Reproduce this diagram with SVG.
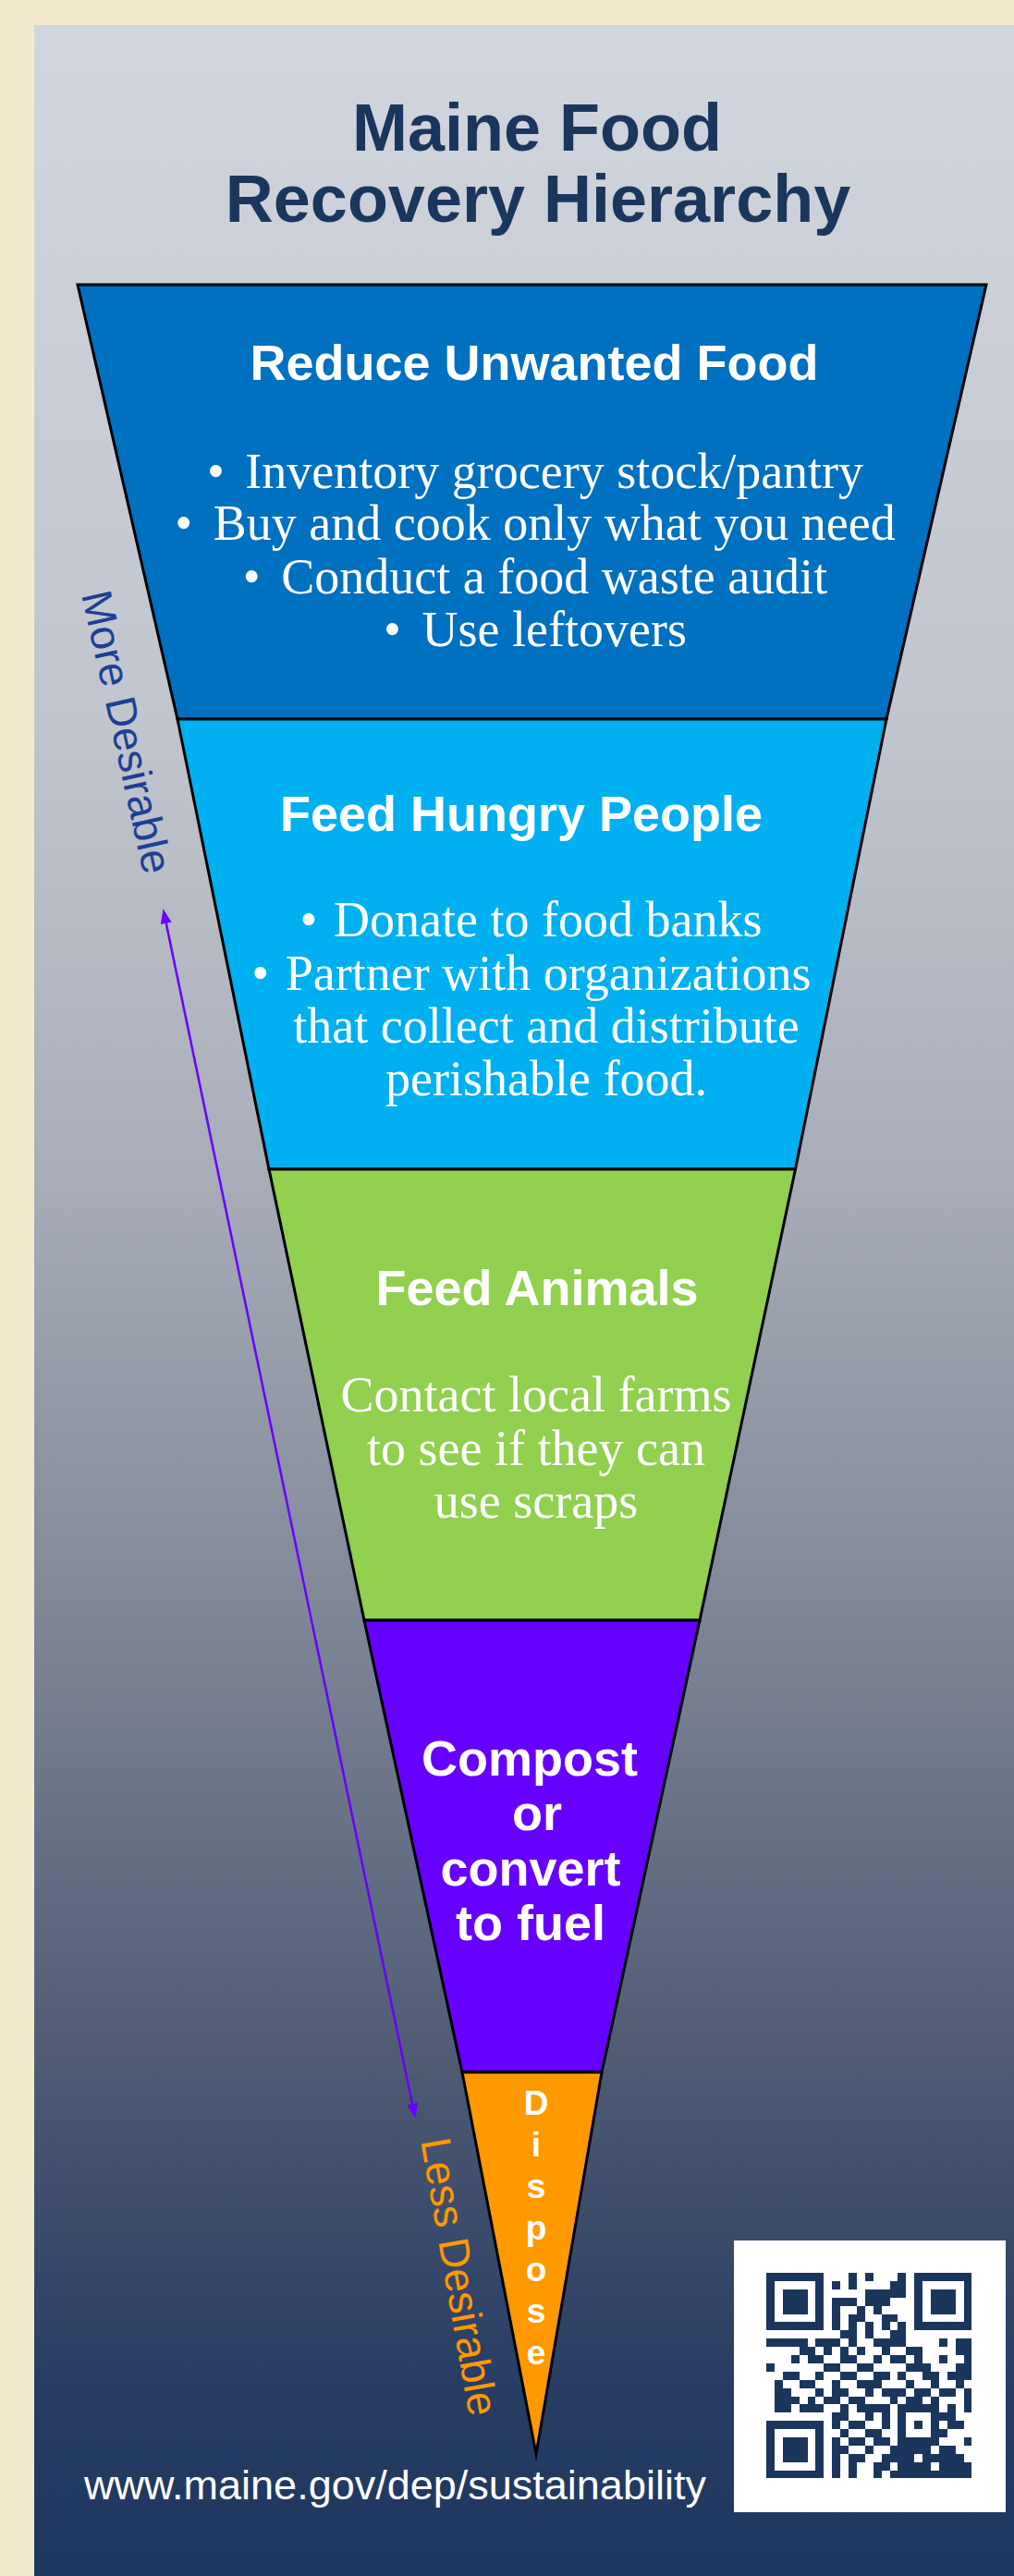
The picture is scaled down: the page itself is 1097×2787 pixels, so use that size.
<svg xmlns="http://www.w3.org/2000/svg" width="1097" height="2787" viewBox="0 0 1097 2787">
<defs>
<linearGradient id="bg" x1="0" y1="0" x2="0" y2="1">
<stop offset="0" stop-color="#D1D6DE"/>
<stop offset="0.27" stop-color="#C1C6CE"/>
<stop offset="0.45" stop-color="#A8ADB8"/>
<stop offset="0.6" stop-color="#858C9B"/>
<stop offset="0.8" stop-color="#4F5A73"/>
<stop offset="0.93" stop-color="#263C63"/>
<stop offset="1" stop-color="#1E375F"/>
</linearGradient>
<marker id="ah" markerUnits="userSpaceOnUse" markerWidth="16" markerHeight="12" refX="8" refY="6" orient="auto-start-reverse" viewBox="0 0 16 12">
<path d="M0,0 L16,6 L0,12 z" fill="#6600FF"/>
</marker>
<style>
.band{stroke:#000;stroke-width:3;stroke-linejoin:miter;stroke-miterlimit:20}
.h{font-family:"Liberation Sans",Arial,sans-serif;font-weight:bold;font-size:54px;fill:#fff;text-anchor:middle}
.b{font-family:"Liberation Serif","Times New Roman",serif;font-size:54px;fill:#fff;text-anchor:middle}
.d{font-family:"Liberation Sans",Arial,sans-serif;font-weight:bold;font-size:37px;fill:#fff;text-anchor:middle}
.t{font-family:"Liberation Sans",Arial,sans-serif;font-weight:bold;font-size:72px;fill:#1B365D;text-anchor:middle}
.s{font-family:"Liberation Sans",Arial,sans-serif;font-size:46px}
.qr rect{fill:#1B365D}
</style>
</defs>
<rect x="0" y="0" width="1097" height="2787" fill="#F3E9CD"/>
<rect x="37" y="27" width="1060" height="2760" fill="url(#bg)"/>

<g id="title">
<text class="t" x="581" y="163">Maine Food</text>
<text class="t" x="582" y="240">Recovery Hierarchy</text>
</g>

<g id="reduce">
<polygon class="band" fill="#0070C0" points="84,308 1067,308 959,778 192,778"/>
<text class="h" x="578" y="411">Reduce Unwanted Food</text>
<text class="b" x="579" y="528">•<tspan dx="9"> Inventory grocery stock/pantry</tspan></text>
<text class="b" x="579" y="584">•<tspan dx="9"> Buy and cook only what you need</tspan></text>
<text class="b" x="579" y="642">•<tspan dx="9"> Conduct a food waste audit</tspan></text>
<text class="b" x="579" y="699">•<tspan dx="9"> Use leftovers</tspan></text>
</g>

<g id="feed-people">
<polygon class="band" fill="#00B0F0" points="192,778 959,778 860.5,1265 291,1265"/>
<text class="h" x="564" y="899">Feed Hungry People</text>
<text class="b" x="574.5" y="1013">•<tspan dx="4"> Donate to food banks</tspan></text>
<text class="b" x="575" y="1071">•<tspan dx="4"> Partner with organizations</tspan></text>
<text class="b" x="591" y="1128">that collect and distribute</text>
<text class="b" x="591" y="1185">perishable food.</text>
</g>

<g id="feed-animals">
<polygon class="band" fill="#92D050" points="291,1265 860.5,1265 757,1753 394,1753"/>
<text class="h" x="581" y="1412">Feed Animals</text>
<text class="b" x="580" y="1527">Contact local farms</text>
<text class="b" x="580" y="1585">to see if they can</text>
<text class="b" x="580" y="1642">use scraps</text>
</g>

<g id="compost">
<polygon class="band" fill="#6600FF" points="394,1753 757,1753 651,2242 500,2242"/>
<text class="h" x="573" y="1921">Compost</text>
<text class="h" x="581" y="1980">or</text>
<text class="h" x="574" y="2040">convert</text>
<text class="h" x="574" y="2099">to fuel</text>
</g>

<g id="dispose">
<polygon class="band" fill="#FF9900" points="500,2242 651,2242 580,2655"/>
<text class="d" x="580" y="2288">D</text>
<text class="d" x="580" y="2333">i</text>
<text class="d" x="580" y="2378">s</text>
<text class="d" x="580" y="2423">p</text>
<text class="d" x="580" y="2468">o</text>
<text class="d" x="580" y="2513">s</text>
<text class="d" x="580" y="2558">e</text>
</g>

<g id="connectors">
<line x1="178.1" y1="991.1" x2="447.7" y2="2283.9" stroke="#6600FF" stroke-width="2.5" marker-start="url(#ah)" marker-end="url(#ah)"/>
</g>

<g id="more-desirable">
<text class="s" transform="translate(88,643) rotate(77.5)" font-size="50" fill="#1E3F95">More Desirable</text>
</g>
<g id="less-desirable">
<text class="s" transform="translate(455,2316) rotate(80)" fill="#FF9900">Less Desirable</text>
</g>

<g id="url">
<text x="427.5" y="2704" font-family="'Liberation Sans',Arial,sans-serif" font-size="45" fill="#FFFFFF" text-anchor="middle">www.maine.gov/dep/sustainability</text>
</g>

<g id="qr">
<rect x="794" y="2424" width="294" height="294" fill="#FFFFFF"/>
<g class="qr" transform="translate(829,2459) scale(8.9)" shape-rendering="crispEdges">
<rect x="0" y="0" width="7" height="1"/><rect x="10" y="0" width="1" height="1"/><rect x="12" y="0" width="1" height="1"/><rect x="16" y="0" width="1" height="1"/><rect x="18" y="0" width="7" height="1"/>
<rect x="0" y="1" width="1" height="1"/><rect x="6" y="1" width="1" height="1"/><rect x="8" y="1" width="1" height="1"/><rect x="10" y="1" width="1" height="1"/><rect x="15" y="1" width="2" height="1"/><rect x="18" y="1" width="1" height="1"/><rect x="24" y="1" width="1" height="1"/>
<rect x="0" y="2" width="1" height="1"/><rect x="2" y="2" width="3" height="3"/><rect x="6" y="2" width="1" height="1"/><rect x="12" y="2" width="5" height="1"/><rect x="18" y="2" width="1" height="1"/><rect x="20" y="2" width="3" height="3"/><rect x="24" y="2" width="1" height="1"/>
<rect x="0" y="3" width="1" height="1"/><rect x="6" y="3" width="1" height="1"/><rect x="8" y="3" width="3" height="1"/><rect x="12" y="3" width="3" height="1"/><rect x="18" y="3" width="1" height="1"/><rect x="24" y="3" width="1" height="1"/>
<rect x="0" y="4" width="1" height="1"/><rect x="6" y="4" width="1" height="1"/><rect x="8" y="4" width="1" height="1"/><rect x="11" y="4" width="1" height="1"/><rect x="13" y="4" width="1" height="1"/><rect x="18" y="4" width="1" height="1"/><rect x="24" y="4" width="1" height="1"/>
<rect x="0" y="5" width="1" height="1"/><rect x="6" y="5" width="1" height="1"/><rect x="8" y="5" width="1" height="1"/><rect x="10" y="5" width="2" height="1"/><rect x="14" y="5" width="2" height="1"/><rect x="18" y="5" width="1" height="1"/><rect x="24" y="5" width="1" height="1"/>
<rect x="0" y="6" width="7" height="1"/><rect x="8" y="6" width="1" height="1"/><rect x="10" y="6" width="1" height="1"/><rect x="12" y="6" width="1" height="1"/><rect x="14" y="6" width="1" height="1"/><rect x="16" y="6" width="1" height="1"/><rect x="18" y="6" width="7" height="1"/>
<rect x="9" y="7" width="2" height="1"/><rect x="12" y="7" width="1" height="1"/><rect x="15" y="7" width="2" height="1"/>
<rect x="0" y="8" width="5" height="1"/><rect x="6" y="8" width="3" height="1"/><rect x="10" y="8" width="1" height="1"/><rect x="13" y="8" width="4" height="1"/><rect x="21" y="8" width="1" height="1"/><rect x="23" y="8" width="2" height="1"/>
<rect x="4" y="9" width="2" height="1"/><rect x="7" y="9" width="1" height="1"/><rect x="9" y="9" width="1" height="1"/><rect x="11" y="9" width="1" height="1"/><rect x="14" y="9" width="1" height="1"/><rect x="17" y="9" width="2" height="1"/><rect x="23" y="9" width="2" height="1"/>
<rect x="3" y="10" width="1" height="1"/><rect x="5" y="10" width="2" height="1"/><rect x="9" y="10" width="2" height="1"/><rect x="13" y="10" width="1" height="1"/><rect x="15" y="10" width="2" height="1"/><rect x="18" y="10" width="1" height="1"/><rect x="21" y="10" width="1" height="1"/><rect x="24" y="10" width="1" height="1"/>
<rect x="0" y="11" width="1" height="1"/><rect x="7" y="11" width="2" height="1"/><rect x="11" y="11" width="2" height="1"/><rect x="17" y="11" width="3" height="1"/><rect x="23" y="11" width="2" height="1"/>
<rect x="2" y="12" width="2" height="1"/><rect x="6" y="12" width="1" height="1"/><rect x="9" y="12" width="2" height="1"/><rect x="13" y="12" width="2" height="1"/><rect x="16" y="12" width="1" height="1"/><rect x="19" y="12" width="2" height="1"/><rect x="22" y="12" width="3" height="1"/>
<rect x="1" y="13" width="1" height="1"/><rect x="4" y="13" width="2" height="1"/><rect x="8" y="13" width="1" height="1"/><rect x="11" y="13" width="3" height="1"/><rect x="17" y="13" width="1" height="1"/><rect x="20" y="13" width="1" height="1"/><rect x="23" y="13" width="1" height="1"/>
<rect x="1" y="14" width="2" height="1"/><rect x="6" y="14" width="1" height="1"/><rect x="8" y="14" width="2" height="1"/><rect x="12" y="14" width="1" height="1"/><rect x="14" y="14" width="3" height="1"/><rect x="18" y="14" width="2" height="1"/><rect x="21" y="14" width="2" height="1"/><rect x="24" y="14" width="1" height="1"/>
<rect x="1" y="15" width="3" height="1"/><rect x="5" y="15" width="1" height="1"/><rect x="7" y="15" width="2" height="1"/><rect x="10" y="15" width="2" height="1"/><rect x="15" y="15" width="1" height="1"/><rect x="17" y="15" width="2" height="1"/><rect x="20" y="15" width="1" height="1"/><rect x="24" y="15" width="1" height="1"/>
<rect x="1" y="16" width="2" height="1"/><rect x="4" y="16" width="3" height="1"/><rect x="9" y="16" width="1" height="1"/><rect x="11" y="16" width="4" height="1"/><rect x="16" y="16" width="5" height="1"/><rect x="22" y="16" width="1" height="1"/><rect x="24" y="16" width="1" height="1"/>
<rect x="8" y="17" width="2" height="1"/><rect x="12" y="17" width="1" height="1"/><rect x="14" y="17" width="1" height="1"/><rect x="16" y="17" width="1" height="1"/><rect x="20" y="17" width="3" height="1"/>
<rect x="0" y="18" width="7" height="1"/><rect x="8" y="18" width="1" height="1"/><rect x="10" y="18" width="2" height="1"/><rect x="14" y="18" width="1" height="1"/><rect x="16" y="18" width="1" height="1"/><rect x="18" y="18" width="1" height="1"/><rect x="20" y="18" width="1" height="1"/><rect x="22" y="18" width="2" height="1"/>
<rect x="0" y="19" width="1" height="1"/><rect x="6" y="19" width="1" height="1"/><rect x="9" y="19" width="1" height="1"/><rect x="12" y="19" width="2" height="1"/><rect x="16" y="19" width="1" height="1"/><rect x="20" y="19" width="2" height="1"/>
<rect x="0" y="20" width="1" height="1"/><rect x="2" y="20" width="3" height="3"/><rect x="6" y="20" width="1" height="1"/><rect x="8" y="20" width="1" height="1"/><rect x="10" y="20" width="2" height="1"/><rect x="13" y="20" width="2" height="1"/><rect x="16" y="20" width="5" height="1"/><rect x="24" y="20" width="1" height="1"/>
<rect x="0" y="21" width="1" height="1"/><rect x="6" y="21" width="1" height="1"/><rect x="8" y="21" width="2" height="1"/><rect x="12" y="21" width="1" height="1"/><rect x="15" y="21" width="5" height="1"/><rect x="21" y="21" width="2" height="1"/>
<rect x="0" y="22" width="1" height="1"/><rect x="6" y="22" width="1" height="1"/><rect x="8" y="22" width="1" height="1"/><rect x="10" y="22" width="2" height="1"/><rect x="14" y="22" width="4" height="1"/><rect x="19" y="22" width="5" height="1"/>
<rect x="0" y="23" width="1" height="1"/><rect x="6" y="23" width="1" height="1"/><rect x="8" y="23" width="1" height="1"/><rect x="10" y="23" width="1" height="1"/><rect x="13" y="23" width="2" height="1"/><rect x="16" y="23" width="4" height="1"/><rect x="21" y="23" width="4" height="1"/>
<rect x="0" y="24" width="7" height="1"/><rect x="8" y="24" width="1" height="1"/><rect x="10" y="24" width="1" height="1"/><rect x="13" y="24" width="1" height="1"/><rect x="15" y="24" width="10" height="1"/>
</g>
</g>
</svg>
